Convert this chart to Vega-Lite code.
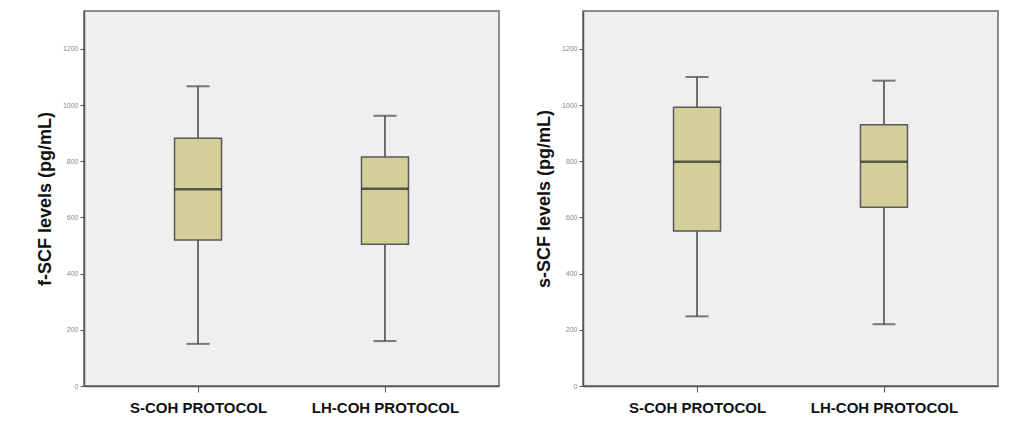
{
  "$schema": "https://vega.github.io/schema/vega-lite/v6.json",
  "background": "white",
  "padding": {"left": 35, "top": 10, "right": 5, "bottom": 5},
  "config": {
    "view": {"stroke": "#6a6a6a", "strokeWidth": 1.5, "fill": "#efefef"},
    "axis": {"grid": false, "domainColor": "#555", "tickColor": "#555", "domainWidth": 1.5}
  },
  "datasets": {
    "f": [
      {"group": "S-COH PROTOCOL", "low": 150, "q1": 520, "median": 700, "q3": 882, "high": 1067},
      {"group": "LH-COH PROTOCOL", "low": 160, "q1": 505, "median": 702, "q3": 815, "high": 962}
    ],
    "s": [
      {"group": "S-COH PROTOCOL", "low": 248, "q1": 552, "median": 798, "q3": 992, "high": 1100},
      {"group": "LH-COH PROTOCOL", "low": 220, "q1": 636, "median": 798, "q3": 930, "high": 1087}
    ]
  },
  "spacing": 34,
  "hconcat": [
    {
      "width": 415,
      "height": 375,
      "data": {"name": "f"},
      "encoding": {
        "x": {"field": "group", "type": "nominal", "sort": ["S-COH PROTOCOL", "LH-COH PROTOCOL"],
          "scale": {"type": "point", "padding": 0.61},
          "axis": {"title": null, "labelAngle": 0, "labelFont": "Liberation Sans", "labelFontWeight": "bold", "labelFontSize": 15, "labelColor": "#111", "labelPadding": 8, "tickSize": 6}}
      },
      "layer": [
        {"mark": {"type": "rule", "color": "#444", "strokeWidth": 1.5},
          "encoding": {"y": {"field": "low", "type": "quantitative",
            "scale": {"domain": [0, 1335], "nice": false},
            "axis": {"title": "f-SCF levels (pg/mL)", "titleFont": "Liberation Sans", "titleFontSize": 18, "titleFontWeight": "bold", "titleColor": "#111", "titlePadding": 8, "values": [0,200,400,600,800,1000,1200], "format": "d", "labelFont": "Liberation Sans", "labelFontSize": 7, "labelColor": "#888", "tickSize": 4}},
            "y2": {"field": "high"}}},
        {"mark": {"type": "bar", "size": 47, "fill": "#d4cf98", "stroke": "#5a5a5a", "strokeWidth": 1.5},
          "encoding": {"y": {"field": "q1", "type": "quantitative"}, "y2": {"field": "q3"}}},
        {"mark": {"type": "tick", "size": 47, "thickness": 2.5, "color": "#222"},
          "encoding": {"y": {"field": "median", "type": "quantitative"}}},
        {"mark": {"type": "tick", "size": 23, "thickness": 2, "color": "#444"},
          "encoding": {"y": {"field": "low", "type": "quantitative"}}},
        {"mark": {"type": "tick", "size": 23, "thickness": 2, "color": "#444"},
          "encoding": {"y": {"field": "high", "type": "quantitative"}}}
      ]
    },
    {
      "width": 415,
      "height": 375,
      "data": {"name": "s"},
      "encoding": {
        "x": {"field": "group", "type": "nominal", "sort": ["S-COH PROTOCOL", "LH-COH PROTOCOL"],
          "scale": {"type": "point", "padding": 0.61},
          "axis": {"title": null, "labelAngle": 0, "labelFont": "Liberation Sans", "labelFontWeight": "bold", "labelFontSize": 15, "labelColor": "#111", "labelPadding": 8, "tickSize": 6}}
      },
      "layer": [
        {"mark": {"type": "rule", "color": "#444", "strokeWidth": 1.5},
          "encoding": {"y": {"field": "low", "type": "quantitative",
            "scale": {"domain": [0, 1335], "nice": false},
            "axis": {"title": "s-SCF levels (pg/mL)", "titleFont": "Liberation Sans", "titleFontSize": 18, "titleFontWeight": "bold", "titleColor": "#111", "titlePadding": 8, "values": [0,200,400,600,800,1000,1200], "format": "d", "labelFont": "Liberation Sans", "labelFontSize": 7, "labelColor": "#888", "tickSize": 4}},
            "y2": {"field": "high"}}},
        {"mark": {"type": "bar", "size": 47, "fill": "#d4cf98", "stroke": "#5a5a5a", "strokeWidth": 1.5},
          "encoding": {"y": {"field": "q1", "type": "quantitative"}, "y2": {"field": "q3"}}},
        {"mark": {"type": "tick", "size": 47, "thickness": 2.5, "color": "#222"},
          "encoding": {"y": {"field": "median", "type": "quantitative"}}},
        {"mark": {"type": "tick", "size": 23, "thickness": 2, "color": "#444"},
          "encoding": {"y": {"field": "low", "type": "quantitative"}}},
        {"mark": {"type": "tick", "size": 23, "thickness": 2, "color": "#444"},
          "encoding": {"y": {"field": "high", "type": "quantitative"}}}
      ]
    }
  ]
}
